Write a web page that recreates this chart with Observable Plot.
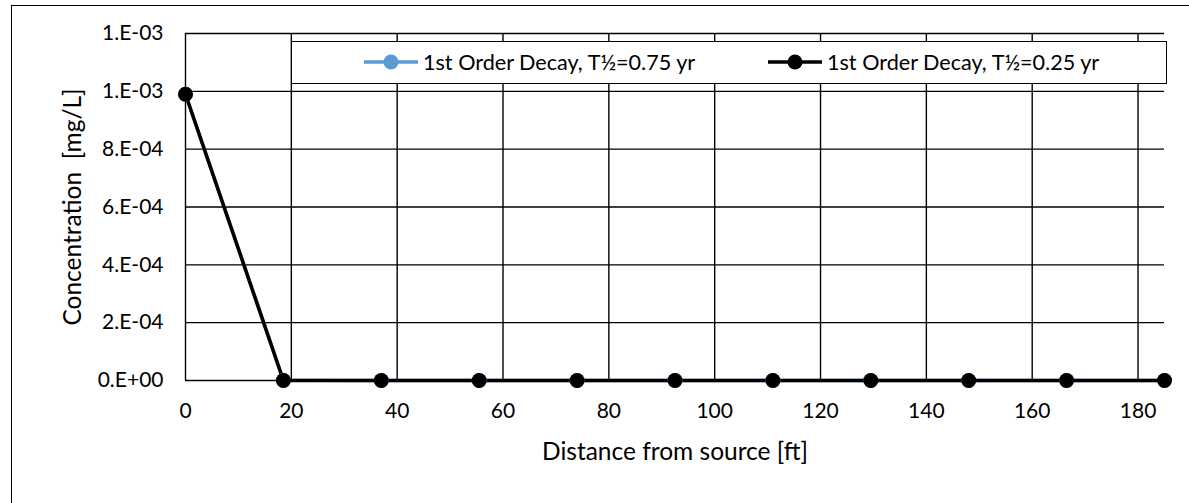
<!DOCTYPE html>
<html><head><meta charset="utf-8">
<script src="https://cdn.jsdelivr.net/npm/d3@7"></script>
<script src="https://cdn.jsdelivr.net/npm/@observablehq/plot@0.6"></script>
<style>
html,body{margin:0;padding:0;background:#fff;}
#wrap{position:relative;width:1189px;height:503px;overflow:hidden;font-family:Lato,"Open Sans",sans-serif;color:#000;}
#frame{position:absolute;left:11px;top:5px;width:1200px;height:530px;border:1.5px solid #000;box-sizing:border-box;}
#chart{position:absolute;left:0;top:0;}
#legend{position:absolute;left:291px;top:41px;width:876px;height:43px;border:1.5px solid #000;background:#fff;box-sizing:border-box;font-size:21.6px;}
.item{position:absolute;top:0;height:40px;display:flex;align-items:center;white-space:nowrap;}
.item svg{margin-right:4px;}
.chart-svg [aria-label="y-axis label"] text, .chart-svg [aria-label="x-axis label"] text{font-size:24.5px;}
</style></head>
<body>
<div id="wrap">
  <div id="frame"></div>
  <div id="chart"></div>
  <div id="legend"></div>
</div>
<script>
// Data
const distance = [0, 18.5, 37, 55.5, 74, 92.5, 111, 129.5, 148, 166.5, 185];
const conc075 = [0.00099, 0.000001, 0, 0, 0, 0, 0, 0, 0, 0, 0];
const conc025 = [0.00099, 0, 0, 0, 0, 0, 0, 0, 0, 0, 0];
const seriesNames = ["1st Order Decay, T½=0.75 yr", "1st Order Decay, T½=0.25 yr"];
const seriesColors = ["#5B9BD5", "#000000"];
const yTicks = [0, 0.0002, 0.0004, 0.0006, 0.0008, 0.001, 0.0012];
const yTickLabels = ["0.E+00", "2.E-04", "4.E-04", "6.E-04", "8.E-04", "1.E-03", "1.E-03"];
const xTicks = [0, 20, 40, 60, 80, 100, 120, 140, 160, 180];
const xTickLabels = ["0", "20", "40", "60", "80", "100", "120", "140", "160", "180"];

const rows = [];
[conc075, conc025].forEach((vals, s) => {
  vals.forEach((v, i) => rows.push({series: seriesNames[s], x: distance[i], y: v}));
});

const chart = Plot.plot({
  className: "chart-svg",
  width: 1189,
  height: 503,
  marginLeft: 185,
  marginRight: 25,
  marginTop: 33,
  marginBottom: 123,
  style: {fontFamily: "Lato, 'Open Sans', sans-serif", fontSize: "21px", color: "#000", background: "transparent", overflow: "visible"},
  x: {domain: [0, 185]},
  y: {domain: [0, 0.0012]},
  color: {domain: seriesNames, range: seriesColors},
  marks: [
    Plot.gridY(yTicks, {stroke: "#000", strokeOpacity: 1, strokeWidth: 1.4}),
    Plot.gridX(xTicks, {stroke: "#000", strokeOpacity: 1, strokeWidth: 1.4}),
    Plot.axisY(yTicks, {tickSize: 0, tickPadding: 22, tickFormat: (d, i) => yTickLabels[i],
      label: "Concentration\u00a0 [mg/L]", labelAnchor: "center", labelArrow: "none", labelOffset: 122}),
    Plot.axisX(xTicks, {tickSize: 0, tickPadding: 23, tickFormat: (d, i) => xTickLabels[i],
      label: "Distance from source [ft]", labelAnchor: "center", labelArrow: "none", labelOffset: 79}),
    Plot.line(rows, {x: "x", y: "y", z: "series", stroke: "series", strokeWidth: 3.5}),
    Plot.dot(rows, {x: "x", y: "y", fill: "series", r: 7.5})
  ]
});
document.getElementById("chart").appendChild(chart);

// Legend
const legend = document.getElementById("legend");
const itemLeft = [71, 475];
seriesNames.forEach((name, i) => {
  const d = document.createElement("div");
  d.className = "item";
  d.style.left = itemLeft[i] + "px";
  d.innerHTML = `<svg width="56" height="20"><line x1="1" y1="10" x2="55" y2="10" stroke="${seriesColors[i]}" stroke-width="3.5"/><circle cx="28" cy="10" r="7.5" fill="${seriesColors[i]}"/></svg><span>${name}</span>`;
  legend.appendChild(d);
});
</script>
</body></html>
